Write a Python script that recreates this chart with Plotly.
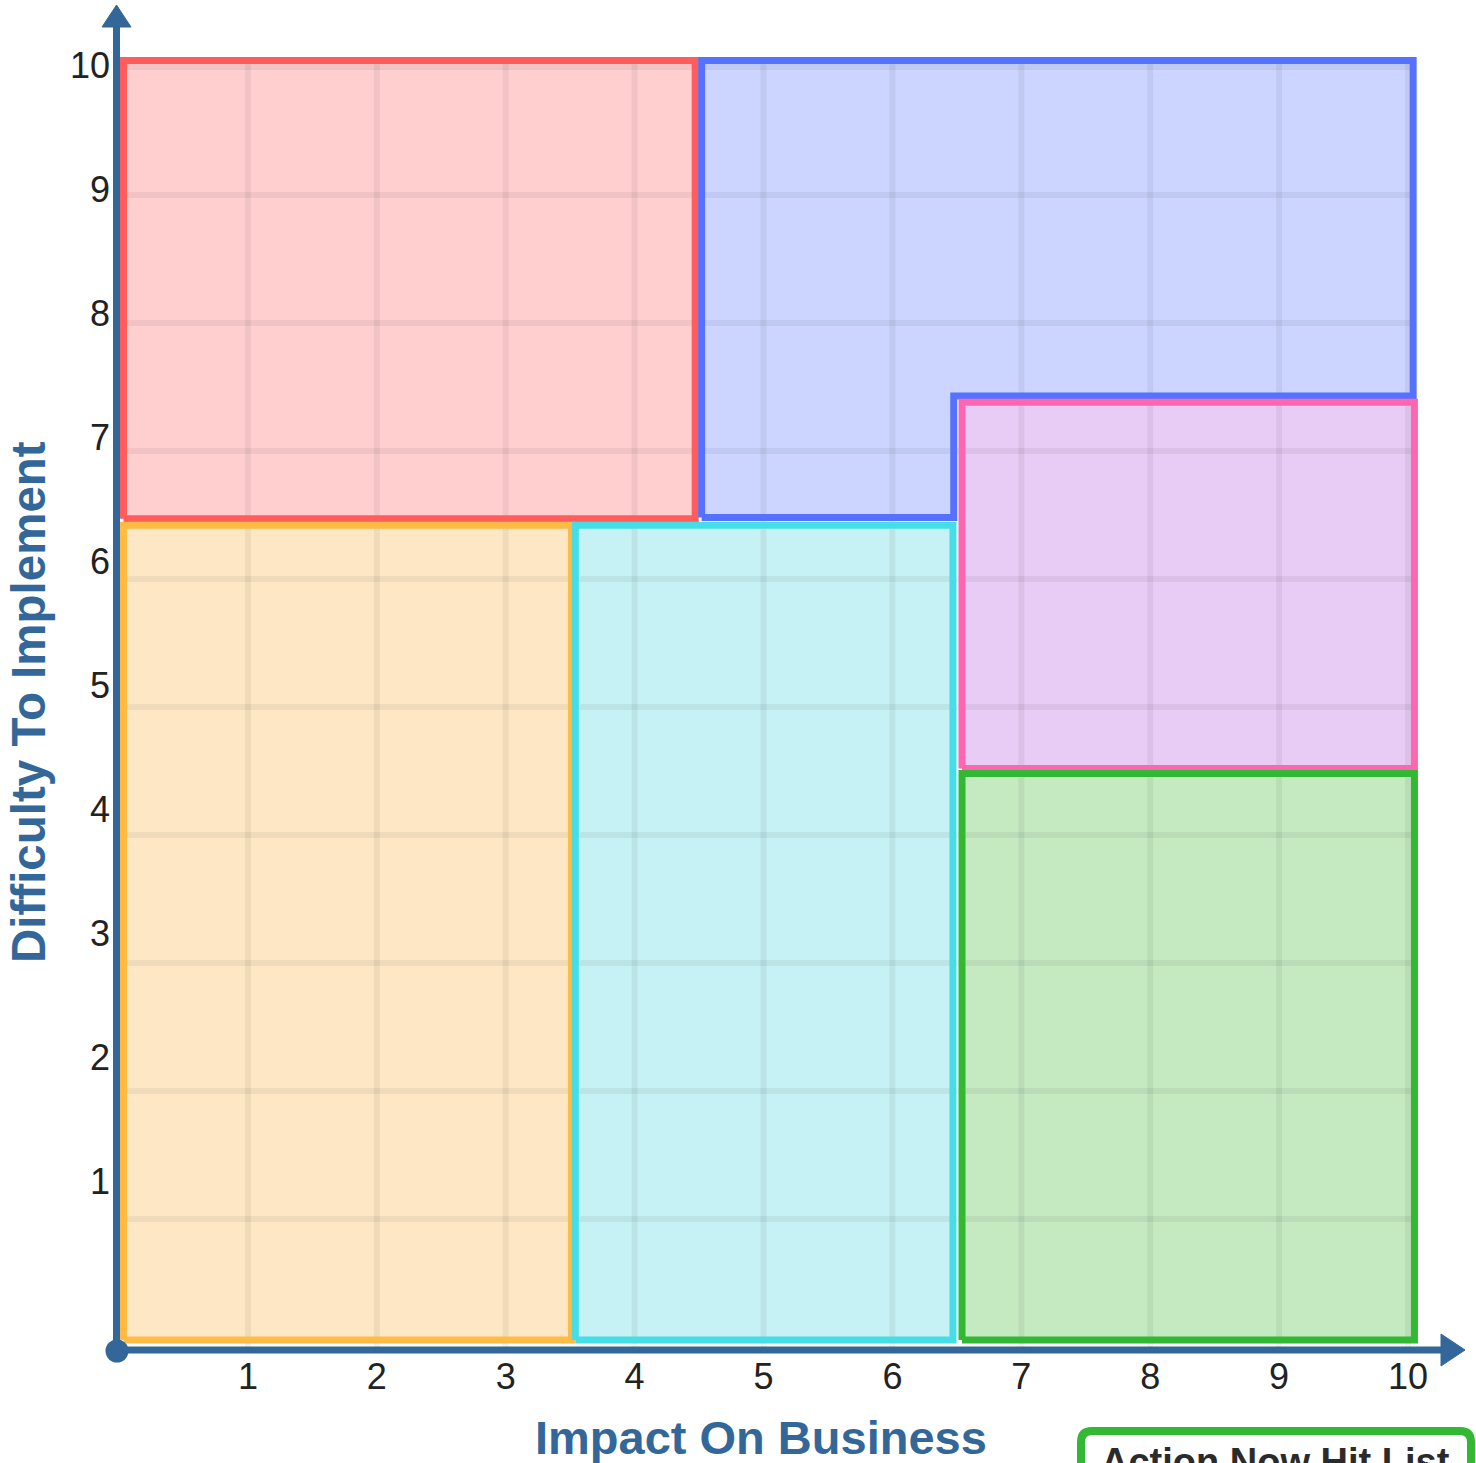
import plotly.graph_objects as go

# ---------------- data ----------------
zone_names = ["Red", "Orange", "Cyan", "Pink", "Green"]
zone_x0 = [0.035, 0.035, 3.54, 6.54, 6.54]
zone_x1 = [4.47, 3.51, 6.47, 10.05, 10.05]
zone_y0 = [6.47, 0.055, 0.055, 4.52, 0.055]
zone_y1 = [10.05, 6.42, 6.42, 7.38, 4.48]

blue_x = [4.52, 4.52, 10.04, 10.04, 6.476, 6.476, 4.52]
blue_y = [6.48, 10.05, 10.05, 7.43, 7.43, 6.48, 6.48]

x_ticks = [1, 2, 3, 4, 5, 6, 7, 8, 9, 10]
y_ticks = [1, 2, 3, 4, 5, 6, 7, 8, 9, 10]

x_title = "Impact On Business"
y_title = "Difficulty To Implement"
legend_label = "Action Now Hit List"

# ---------------- style ----------------
FONT = "Liberation Sans, Arial, sans-serif"
AXIS = "#33679A"
fills = {"Red": "#FFCFD0", "Orange": "#FDE7C4", "Cyan": "#C7F2F5",
         "Pink": "#E9CCF5", "Green": "#C5EAC2", "Blue": "#CCD5FF"}
borders = {"Red": "#FF5C5C", "Orange": "#FFBB44", "Cyan": "#44DDE8",
           "Pink": "#FF66B0", "Green": "#33B833", "Blue": "#5571FF"}

W, H = 1476, 1463
X0PX, KX = 119.0, 128.9     # pixel of x=0, px per unit
Y0PX, KY = 1347.0, 128.0    # pixel of y=0, px per unit


def dx(p):
    return (p - X0PX) / KX


def dy(p):
    return (Y0PX - p) / KY


def rect_path(x0, x1, y0, y1):
    return [x0, x0, x1, x1, x0], [y0, y1, y1, y0, y0]


fig = go.Figure()

# polygons for each zone
polys = []
for n, a, b, c, d in zip(zone_names, zone_x0, zone_x1, zone_y0, zone_y1):
    xs, ys = rect_path(a, b, c, d)
    polys.append((n, xs, ys))
polys.insert(1, ("Blue", blue_x, blue_y))

# fills
for n, xs, ys in polys:
    fig.add_trace(go.Scatter(x=xs, y=ys, mode="lines", fill="toself",
                             fillcolor=fills[n], line=dict(width=0),
                             hoverinfo="skip", showlegend=False))

# grid lines (drawn over the fills, under the borders)
gx, gy = [], []
for v in x_ticks:
    gx += [v, v, None]
    gy += [0, 10.05, None]
for v in y_ticks:
    gx += [0, 10.05, None]
    gy += [v, v, None]
fig.add_trace(go.Scatter(x=gx, y=gy, mode="lines",
                         line=dict(color="rgba(0,0,0,0.055)", width=6),
                         hoverinfo="skip", showlegend=False))

# borders
for n, xs, ys in polys:
    fig.add_trace(go.Scatter(x=xs, y=ys, mode="lines",
                             line=dict(color=borders[n], width=7),
                             hoverinfo="skip", showlegend=False))

# tick labels
fig.add_trace(go.Scatter(x=x_ticks, y=[dy(1380)] * len(x_ticks), mode="text",
                         text=[str(v) for v in x_ticks], textposition="middle center",
                         textfont=dict(family=FONT, size=36, color="#222222"),
                         cliponaxis=False, hoverinfo="skip", showlegend=False))
fig.add_trace(go.Scatter(x=[dx(110)] * len(y_ticks),
                         y=[10 - (10 - v) * 124 / 128 - 2 / KY for v in y_ticks], mode="text",
                         text=[str(v) for v in y_ticks], textposition="middle left",
                         textfont=dict(family=FONT, size=36, color="#222222"),
                         cliponaxis=False, hoverinfo="skip", showlegend=False))

shapes = []
# axis lines
shapes.append(dict(type="line", x0=dx(113), x1=dx(1445), y0=dy(1350), y1=dy(1350),
                   line=dict(color=AXIS, width=7), layer="above"))
shapes.append(dict(type="line", x0=dx(116.5), x1=dx(116.5), y0=dy(1352), y1=dy(22),
                   line=dict(color=AXIS, width=7), layer="above"))
# arrow heads
shapes.append(dict(type="path", layer="above", fillcolor=AXIS, line=dict(color=AXIS, width=1),
                   path=f"M {dx(102)} {dy(27)} L {dx(116.5)} {dy(5)} L {dx(131)} {dy(27)} Z"))
shapes.append(dict(type="path", layer="above", fillcolor=AXIS, line=dict(color=AXIS, width=1),
                   path=f"M {dx(1441)} {dy(1334)} L {dx(1465)} {dy(1350)} L {dx(1441)} {dy(1366)} Z"))
# origin dot
shapes.append(dict(type="circle", layer="above", fillcolor=AXIS, line=dict(color=AXIS, width=0),
                   x0=dx(105.5), x1=dx(128.5), y0=dy(1362.5), y1=dy(1339.5)))
# legend box (rounded)
l, r, t, b, rad = 1081, 1471, 1431, 1520, 11
path = (f"M {dx(l)} {dy(b)} L {dx(l)} {dy(t + rad)} Q {dx(l)} {dy(t)} {dx(l + rad)} {dy(t)} "
        f"L {dx(r - rad)} {dy(t)} Q {dx(r)} {dy(t)} {dx(r)} {dy(t + rad)} L {dx(r)} {dy(b)}")
shapes.append(dict(type="path", layer="above", path=path, fillcolor="white",
                   line=dict(color="#33B833", width=8)))

annotations = [
    dict(x=dx(761), y=dy(1437), text=f"<b>{x_title}</b>", showarrow=False,
         xanchor="center", yanchor="middle",
         font=dict(family=FONT, size=47, color=AXIS)),
    dict(x=dx(28), y=dy(702), text=f"<b>{y_title}</b>", showarrow=False, textangle=-90,
         xanchor="center", yanchor="middle",
         font=dict(family=FONT, size=47.5, color=AXIS)),
    dict(x=dx(1099), xref="x", y=1 - 1439 / H, yref="paper", text=f"<b>{legend_label}</b>",
         showarrow=False, xanchor="left", yanchor="top",
         font=dict(family=FONT, size=38, color="#2B2B2B")),
]

fig.update_layout(
    width=W, height=H,
    margin=dict(l=0, r=0, t=0, b=0, autoexpand=False),
    paper_bgcolor="white", plot_bgcolor="white",
    xaxis=dict(range=[dx(0), dx(W)], visible=False, fixedrange=True),
    yaxis=dict(range=[dy(H), dy(0)], visible=False, fixedrange=True),
    shapes=shapes, annotations=annotations, showlegend=False,
)

fig.write_html("out.html", config={"displayModeBar": False},
               post_script="document.body.style.margin='0';document.body.style.overflow='hidden';")
